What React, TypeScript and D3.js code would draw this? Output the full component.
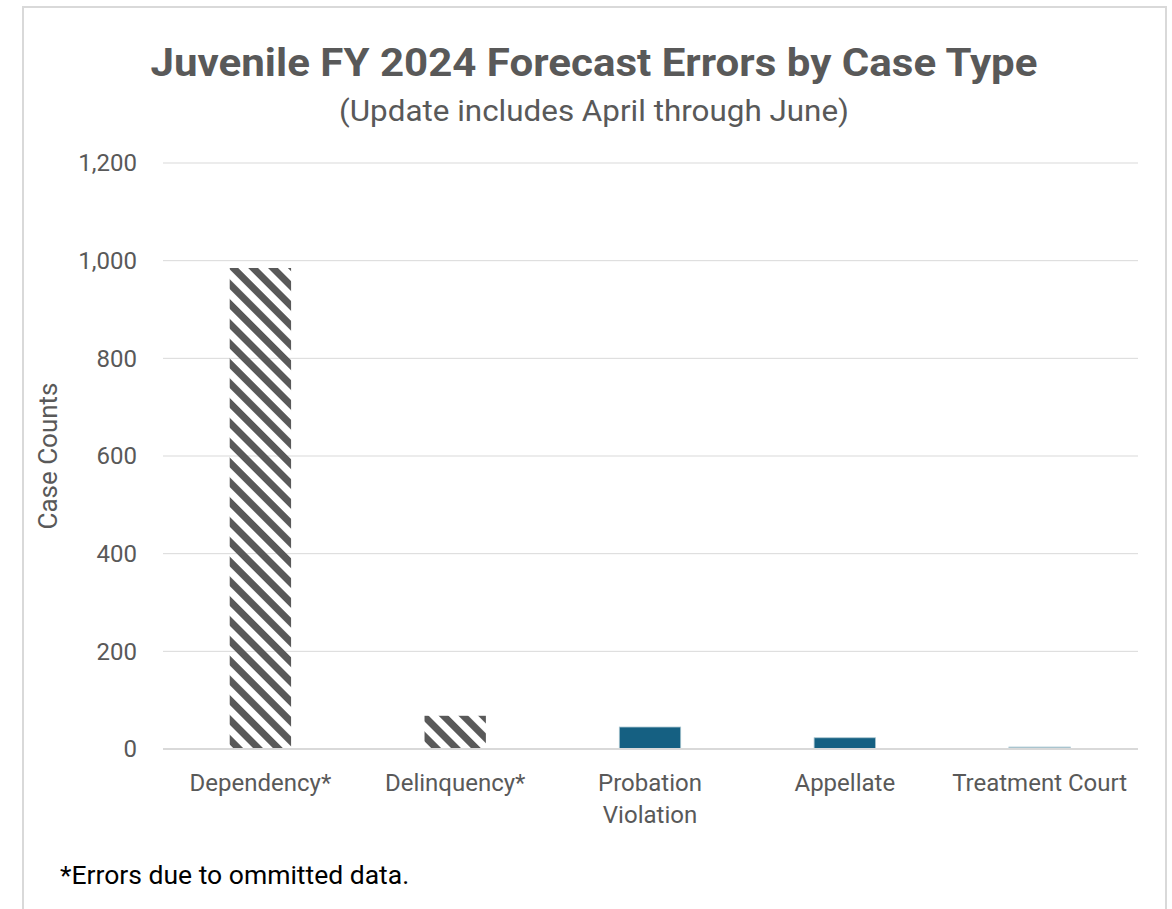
import React, { useEffect, useRef } from "react";
import * as d3 from "d3";

const categories = ["Dependency*", "Delinquency*", "Probation Violation", "Appellate", "Treatment Court"];
const errorCounts = [985, 68, 45, 23, 4];
const hatched = [true, true, false, false, false];
const yTicks = [0, 200, 400, 600, 800, 1000, 1200];

const labelLines: Record<string, string[]> = {
  "Probation Violation": ["Probation", "Violation"],
};

const App = () => {
  const ref = useRef<SVGSVGElement | null>(null);

  useEffect(() => {
    const width = 1172,
      height = 909;
    const margin = { top: 163, right: 34, bottom: 160, left: 163 };
    const font = "Roboto, 'Noto Sans', sans-serif";
    const grey = "#595959";

    const svg = d3.select(ref.current);
    svg.selectAll("*").remove();
    svg.attr("width", width).attr("height", height);

    // stripes for the bars with omitted data
    const defs = svg.append("defs");
    defs
      .append("pattern")
      .attr("id", "hatch")
      .attr("patternUnits", "userSpaceOnUse")
      .attr("width", 14)
      .attr("height", 14)
      .attr("patternTransform", "rotate(-45)")
      .append("rect")
      .attr("width", 7)
      .attr("height", 14)
      .attr("fill", grey);

    svg.append("rect").attr("width", width).attr("height", height).attr("fill", "white");

    // outer chart border
    const border = svg.append("g").attr("stroke", "#d9d9d9").attr("stroke-width", 2);
    border.append("line").attr("x1", 23).attr("x2", 23).attr("y1", 6).attr("y2", height);
    border.append("line").attr("x1", 22).attr("x2", 1167).attr("y1", 7).attr("y2", 7);
    border.append("line").attr("x1", 1166).attr("x2", 1166).attr("y1", 6).attr("y2", height);

    const x = d3
      .scaleBand()
      .domain(categories)
      .range([margin.left, width - margin.right - 1])
      .paddingInner(0.685)
      .paddingOuter(0.3425);

    const y = d3
      .scaleLinear()
      .domain([0, 1200])
      .range([749, margin.top]);

    // gridlines
    svg
      .append("g")
      .selectAll("line")
      .data(yTicks.filter((d) => d > 0))
      .enter()
      .append("line")
      .attr("x1", margin.left)
      .attr("x2", width - margin.right)
      .attr("y1", (d) => y(d))
      .attr("y2", (d) => y(d))
      .attr("stroke", "#d9d9d9")
      .attr("stroke-width", 1);

    // tick labels
    svg
      .append("g")
      .selectAll("text")
      .data(yTicks)
      .enter()
      .append("text")
      .attr("x", 137)
      .attr("y", (d) => y(d))
      .attr("dy", "0.35em")
      .attr("text-anchor", "end")
      .attr("font-family", font)
      .attr("font-size", 24)
      .attr("fill", grey)
      .text((d) => d3.format(",")(d));

    // bars
    svg
      .append("g")
      .selectAll("rect")
      .data(categories)
      .enter()
      .append("rect")
      .attr("x", (d) => x(d) as number)
      .attr("width", x.bandwidth())
      .attr("y", (d, i) => y(errorCounts[i]))
      .attr("height", (d, i) => y(0) - y(errorCounts[i]))
      .attr("fill", (d, i) => (hatched[i] ? "url(#hatch)" : i === 4 ? "#a7c4cf" : "#156082"))
      .attr("stroke", (d, i) => (hatched[i] ? "none" : "#a7c4cf"))
      .attr("stroke-width", 0.8);

    // baseline
    svg
      .append("line")
      .attr("x1", margin.left)
      .attr("x2", width - margin.right)
      .attr("y1", y(0))
      .attr("y2", y(0))
      .attr("stroke", "#d9d9d9")
      .attr("stroke-width", 2);

    // category labels
    const cat = svg
      .append("g")
      .selectAll("text")
      .data(categories)
      .enter()
      .append("text")
      .attr("x", (d) => (x(d) as number) + x.bandwidth() / 2)
      .attr("y", 791)
      .attr("text-anchor", "middle")
      .attr("font-family", font)
      .attr("font-size", 24)
      .attr("fill", grey);
    cat
      .selectAll("tspan")
      .data((d) => labelLines[d] || [d])
      .enter()
      .append("tspan")
      .attr("x", function () {
        return (this as any).parentNode.getAttribute("x");
      })
      .attr("dy", (d, i) => (i === 0 ? 0 : 32))
      .text((d) => d);

    // axis title
    svg
      .append("text")
      .attr("transform", "translate(57,456) rotate(-90)")
      .attr("text-anchor", "middle")
      .attr("font-family", font)
      .attr("font-size", 26)
      .attr("fill", grey)
      .text("Case Counts");

    // title + subtitle
    svg
      .append("text")
      .attr("x", 594)
      .attr("y", 76)
      .attr("text-anchor", "middle")
      .attr("font-family", font)
      .attr("font-weight", "bold")
      .attr("font-size", 39)
      .attr("textLength", 887)
      .attr("lengthAdjust", "spacingAndGlyphs")
      .attr("fill", grey)
      .text("Juvenile FY 2024 Forecast Errors by Case Type");

    svg
      .append("text")
      .attr("x", 594)
      .attr("y", 121)
      .attr("text-anchor", "middle")
      .attr("font-family", font)
      .attr("font-size", 30)
      .attr("textLength", 510)
      .attr("lengthAdjust", "spacingAndGlyphs")
      .attr("fill", grey)
      .text("(Update includes April through June)");

    // footnote
    svg
      .append("text")
      .attr("x", 60)
      .attr("y", 884)
      .attr("font-family", font)
      .attr("font-size", 26.5)
      .attr("fill", "#000")
      .text("*Errors due to ommitted data.");
  }, []);

  return (
    <div style={{ position: "fixed", left: 0, top: 0, width: 1172, height: 909, overflow: "hidden" }}>
      <svg ref={ref} style={{ display: "block" }} />
    </div>
  );
};

export default App;
